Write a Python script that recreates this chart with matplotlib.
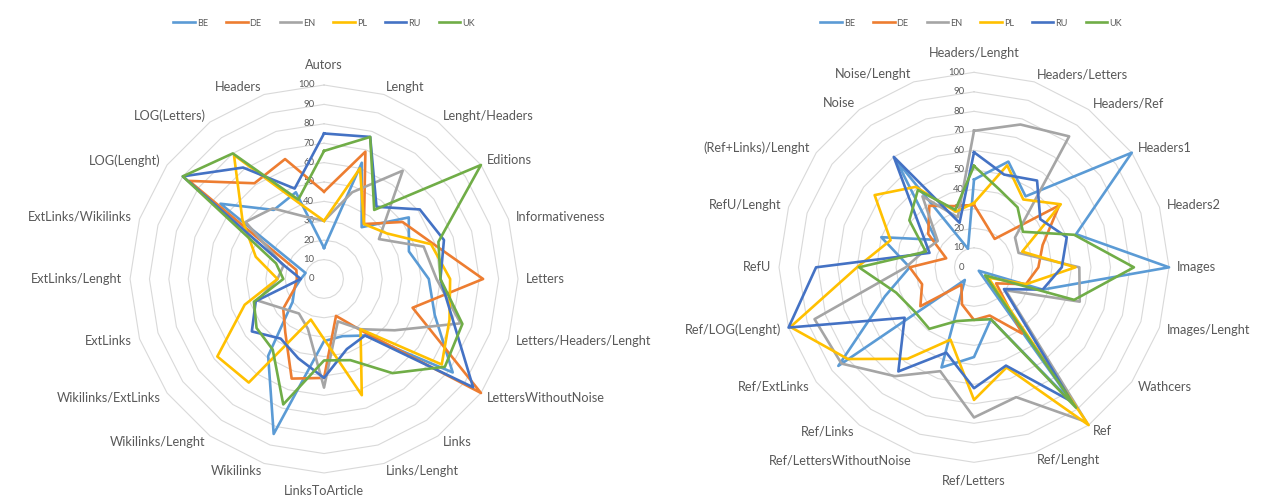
import numpy as np
import matplotlib
matplotlib.use('Agg')
import matplotlib.pyplot as plt

plt.rcParams['font.family'] = ['Lato', 'DejaVu Sans']

series_names = ['BE', 'DE', 'EN', 'PL', 'RU', 'UK']
series_colors = ['#5B9BD5', '#ED7D31', '#A5A5A5', '#FFC000', '#4472C4', '#70AD47']
ticks = [0, 10, 20, 30, 40, 50, 60, 70, 80, 90, 100]

# left chart
left_categories = ['Autors', 'Lenght', 'Lenght/Headers', 'Editions', 'Informativeness', 'Letters',
                   'Letters/Headers/Lenght', 'LettersWithoutNoise', 'Links', 'Links/Lenght',
                   'LinksToArticle', 'Wikilinks', 'Wikilinks/Lenght', 'Wikilinks/ExtLinks', 'ExtLinks',
                   'ExtLinks/Lenght', 'ExtLinks/Wikilinks', 'LOG(Lenght)', 'LOG(Letters)', 'Headers']
left_be = [16, 63, 33, 54, 46, 54, 60, 82, 36, 31, 32, 84, 49, 20, 16, 12, 10, 66, 44, 47]
left_de = [45, 69, 35, 50, 59, 82, 48, 100, 33, 20, 51, 54, 34, 26, 16, 14, 15, 86, 61, 65]
left_en = [30, 47, 69, 35, 54, 58, 74, 45, 32, 23, 56, 27, 22, 26, 36, 24, 22, 50, 45, 34]
left_pl = [30, 60, 35, 40, 58, 65, 68, 75, 32, 63, 31, 22, 66, 68, 43, 24, 37, 52, 79, 41]
left_ru = [75, 77, 46, 61, 65, 60, 70, 95, 36, 38, 51, 43, 38, 46, 37, 12, 21, 90, 71, 49]
left_uk = [66, 77, 44, 100, 62, 60, 75, 77, 60, 44, 42, 68, 45, 43, 38, 21, 26, 90, 80, 43]

# right chart
right_categories = ['Headers/Lenght', 'Headers/Letters', 'Headers/Ref', 'Headers1', 'Headers2', 'Images',
                    'Images/Lenght', 'Wathcers', 'Ref', 'Ref/Lenght', 'Ref/Letters',
                    'Ref/LettersWithoutNoise', 'Ref/Links', 'Ref/ExtLinks', 'Ref/LOG(Lenght)', 'RefU',
                    'RefU/Lenght', '(Ref+Links)/Lenght', 'Noise', 'Noise/Lenght']
right_be = [45, 57, 45, 100, 55, 100, 37, 3, 86, 28, 46, 54, 8, 86, 48, 33, 50, 24, 68, 10]
right_de = [32, 22, 18, 54, 37, 33, 28, 14, 42, 26, 27, 20, 11, 34, 28, 33, 15, 29, 39, 33]
right_en = [70, 77, 83, 26, 24, 54, 57, 20, 98, 70, 77, 56, 69, 84, 86, 35, 27, 23, 45, 27]
right_pl = [33, 55, 43, 55, 26, 52, 28, 9, 100, 54, 68, 39, 58, 80, 99, 60, 45, 63, 51, 30]
right_ru = [59, 50, 55, 42, 50, 45, 37, 19, 85, 53, 62, 46, 66, 44, 100, 81, 24, 34, 70, 24]
right_uk = [52, 42, 38, 31, 54, 82, 54, 7, 89, 28, 27, 29, 39, 38, 42, 59, 26, 41, 49, 31]


def draw_radar(ax, categories, values_list):
    n = len(categories)
    theta = np.linspace(0, 2 * np.pi, n, endpoint=False)
    theta_closed = np.append(theta, theta[0])
    ax.set_theta_zero_location('N')
    ax.set_theta_direction(-1)
    ax.set_ylim(0, 100)
    ax.set_xticks([])
    ax.set_yticks([])
    ax.spines['polar'].set_visible(False)
    ax.grid(False)
    ax.patch.set_alpha(0)

    for t in ticks[1:]:
        ax.plot(theta_closed, [t] * (n + 1), color='#D9D9D9', lw=0.8, zorder=1, clip_on=False)
    for t in ticks:
        ax.annotate(str(t), xy=(0, t), xytext=(-7, 0), textcoords='offset points',
                    ha='right', va='center', fontsize=6.8, color='#595959')

    for vals, name, col in zip(values_list, series_names, series_colors):
        ax.plot(theta_closed, list(vals) + [vals[0]], color=col, lw=1.9, label=name,
                zorder=3, clip_on=False)

    for th, cat in zip(theta, categories):
        s, c = np.sin(th), np.cos(th)
        ha = 'center' if abs(s) < 0.05 else ('left' if s > 0 else 'right')
        va = 'center'
        r = 104
        if c > 0.99:
            va, r = 'bottom', 107
        elif c < -0.99:
            va, r = 'top', 106
        ax.text(th, r, cat, ha=ha, va=va, fontsize=9.2, color='#595959')


fig = plt.figure(figsize=(12.8, 4.96), dpi=100)
ax1 = fig.add_axes([0.1016, 0.0464, 0.3031, 0.7823], projection='polar')
ax2 = fig.add_axes([0.6086, 0.0679, 0.3047, 0.7863], projection='polar')

draw_radar(ax1, left_categories, [left_be, left_de, left_en, left_pl, left_ru, left_uk])
draw_radar(ax2, right_categories, [right_be, right_de, right_en, right_pl, right_ru, right_uk])

for ax, cx in [(ax1, 324), (ax2, 971)]:
    h, l = ax.get_legend_handles_labels()
    fig.legend(h, l, loc='center', bbox_to_anchor=(cx / 1280, 1 - 23 / 496), ncol=6,
               frameon=False, fontsize=6.5, handlelength=2.4, handletextpad=0.2,
               columnspacing=2.0, labelcolor='#595959')

fig.savefig('out.png', dpi=100)
